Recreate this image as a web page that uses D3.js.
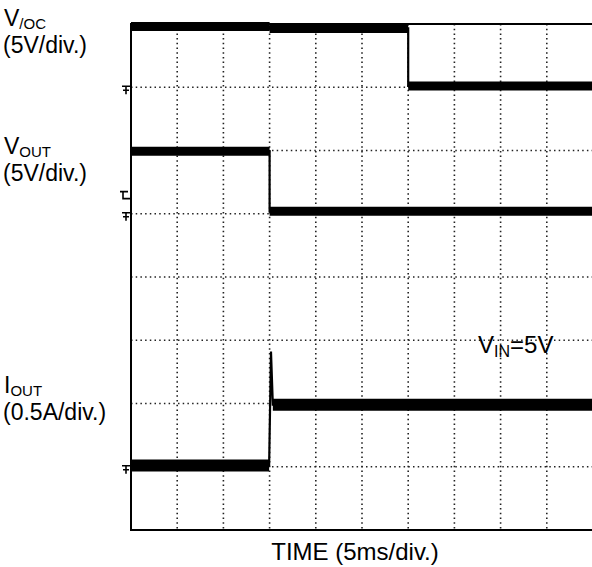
<!DOCTYPE html>
<html>
<head>
<meta charset="utf-8">
<script src="https://cdn.jsdelivr.net/npm/d3@7"></script>
<style>
  body { margin: 0; background: #fff; }
  svg { display: block; font-family: "Liberation Sans", Arial, sans-serif; }
</style>
</head>
<body>
<div id="chart"></div>
<script>
// scope settings: 10 time divisions of 5 ms, 8 vertical divisions
const timeDivs = 10, msPerDiv = 5, vertDivs = 8;

// channel traces (time in ms, value in V or A)
const vocTime = [0, 15, 15, 30, 30, 50];
const vocValue = [4.8, 4.8, 4.65, 4.65, 0.1, 0.1];
const voutTime = [0, 15, 15, 50];
const voutValue = [4.95, 4.95, 0.2, 0.2];
const ioutTime = [0, 14.95, 15.15, 15.35, 50];
const ioutValue = [0.01, 0.01, 0.91, 0.49, 0.49];

// channel setup: ground position (division) and scale per division
const chNames = ["VOC", "VOUT", "IOUT"];
const chGround = [7, 5, 1];
const chPerDiv = [5, 5, 0.5];

const width = 592, height = 567;
const plot = {left: 131, right: 593, top: 24, bottom: 530};

const svg = d3.select("#chart").append("svg")
  .attr("width", width)
  .attr("height", height);

const x = d3.scaleLinear().domain([0, timeDivs * msPerDiv]).range([plot.left, plot.right]);
const y = d3.scaleLinear().domain([0, vertDivs]).range([plot.bottom, plot.top]);

// dotted graticule
svg.append("g")
  .selectAll("line")
  .data(d3.range(1, timeDivs))
  .enter().append("line")
  .attr("x1", d => x(d * msPerDiv)).attr("x2", d => x(d * msPerDiv))
  .attr("y1", plot.top).attr("y2", plot.bottom)
  .attr("stroke", "#222").attr("stroke-width", 1.6)
  .attr("stroke-dasharray", "1.5,3.2");

svg.append("g")
  .selectAll("line")
  .data(d3.range(1, vertDivs))
  .enter().append("line")
  .attr("x1", plot.left).attr("x2", plot.right)
  .attr("y1", d => y(d)).attr("y2", d => y(d))
  .attr("stroke", "#222").attr("stroke-width", 1.6)
  .attr("stroke-dasharray", "1.5,3.2");

// frame
svg.append("rect")
  .attr("x", plot.left).attr("y", plot.top)
  .attr("width", plot.right - plot.left).attr("height", plot.bottom - plot.top)
  .attr("fill", "none").attr("stroke", "#000").attr("stroke-width", 2);

const traces = [
  {t: vocTime, v: vocValue, ch: 0, thick: 9},
  {t: voutTime, v: voutValue, ch: 1, thick: 9},
  {t: ioutTime, v: ioutValue, ch: 2, thick: 12}
];

const line = d3.line().x(d => x(d[0])).y(d => y(d[1]));

traces.forEach(tr => {
  const pts = tr.t.map((t, i) => [t, chGround[tr.ch] + tr.v[i] / chPerDiv[tr.ch]]);
  // thin edges
  svg.append("path")
    .attr("d", line(pts))
    .attr("fill", "none").attr("stroke", "#000").attr("stroke-width", 2.2);
  // thick flat levels
  const flats = [];
  for (let i = 1; i < pts.length; i++) {
    if (pts[i][1] === pts[i - 1][1]) flats.push([pts[i - 1], pts[i]]);
  }
  svg.append("g").selectAll("path")
    .data(flats)
    .enter().append("path")
    .attr("d", d => line(d))
    .attr("stroke", "#000").attr("stroke-width", tr.thick);
});

// ground markers on the left edge
const gnd = svg.append("g");
chGround.forEach(g => {
  const gy = y(g);
  gnd.append("path")
    .attr("d", `M${plot.left - 9},${gy - 1}H${plot.left - 1}M${plot.left - 5},${gy - 1}V${gy + 7}M${plot.left - 8},${gy + 3}H${plot.left - 2}`)
    .attr("stroke", "#000").attr("stroke-width", 1.6).attr("fill", "none");
});
// trigger marker on VOUT
gnd.append("path")
  .attr("d", `M${plot.left - 11},${y(5.35)}H${plot.left - 3}M${plot.left - 8},${y(5.35)}V${y(5.35) + 7}H${plot.left - 1}`)
  .attr("stroke", "#000").attr("stroke-width", 1.6).attr("fill", "none");

// channel labels
const labels = [
  {main: "V", sub: "/OC", div: "(5V/div.)", y: 26},
  {main: "V", sub: "OUT", div: "(5V/div.)", y: 154},
  {main: "I", sub: "OUT", div: "(0.5A/div.)", y: 393}
];
labels.forEach(l => {
  const t = svg.append("text").attr("x", 4).attr("y", l.y)
    .attr("font-size", 23).attr("fill", "#000");
  t.append("tspan").text(l.main);
  t.append("tspan").attr("font-size", 15).attr("dy", 3).text(l.sub);
  svg.append("text").attr("x", 3).attr("y", l.y + 27)
    .attr("font-size", 23).attr("fill", "#000").text(l.div);
});

// input condition
const vin = svg.append("text").attr("x", 478).attr("y", 353)
  .attr("font-size", 24).attr("fill", "#000");
vin.append("tspan").text("V");
vin.append("tspan").attr("font-size", 16).attr("dy", 4).text("IN");
vin.append("tspan").attr("dy", -4).text("=5V");

// time axis title
svg.append("text")
  .attr("x", 355).attr("y", 560)
  .attr("text-anchor", "middle")
  .attr("font-size", 24).attr("fill", "#000")
  .text("TIME (" + msPerDiv + "ms/div.)");
</script>
</body>
</html>
